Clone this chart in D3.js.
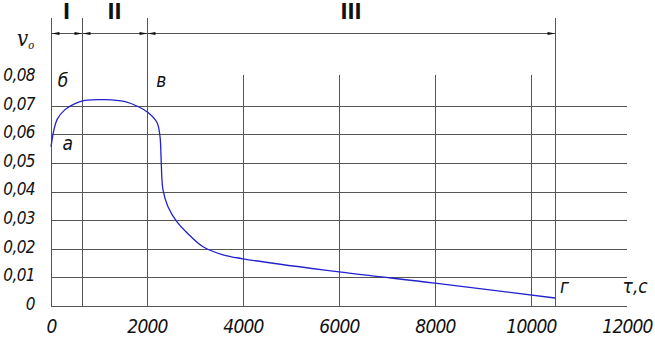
<!DOCTYPE html>
<html>
<head>
<meta charset="utf-8">
<script src="https://cdn.jsdelivr.net/npm/d3@7"></script>
<style>
  body { margin: 0; background: #fff; }
  svg text { font-family: "DejaVu Sans Condensed", "DejaVu Sans", sans-serif; font-stretch: condensed; font-style: italic; fill: #111; }
</style>
</head>
<body>
<div id="chart"></div>
<script>
// curve: time (s) and velocity
const times = [0, 125, 292, 500, 708, 1125, 1542, 1812, 2021, 2208, 2271, 2292, 2312, 2333, 2437, 2625, 2833, 3167, 3583, 4000, 6000, 8000, 10500];
const speeds = [0.0557, 0.0651, 0.0686, 0.0707, 0.0718, 0.0721, 0.0714, 0.0697, 0.0676, 0.0641, 0.0592, 0.0522, 0.0441, 0.0406, 0.0347, 0.0294, 0.0256, 0.0207, 0.0179, 0.0165, 0.0119, 0.0080, 0.0028];

const xTicks = [0, 2000, 4000, 6000, 8000, 10000, 12000];
const yTicks = [0, 0.01, 0.02, 0.03, 0.04, 0.05, 0.06, 0.07, 0.08];
const yGrid = [0, 0.01, 0.02, 0.03, 0.04, 0.05, 0.06, 0.07];
const xGrid = [4000, 6000, 8000, 10000];
const stageBounds = [0, 650, 2000, 10500];
const stageNames = ["I", "II", "III"];

function init() {
    const width = 655, height = 341;

    const svg = d3.select("#chart")
                  .append("svg")
                  .attr("width", width)
                  .attr("height", height);

    const x = d3.scaleLinear().domain([0, 12000]).range([51, 627]);
    const y = d3.scaleLinear().domain([0, 0.08]).range([306, 77]);

    const gridColor = "#555";

    // horizontal grid
    svg.selectAll(".hgrid")
       .data(yGrid)
       .join("line")
       .attr("x1", x(0)).attr("x2", x(12000))
       .attr("y1", d => Math.round(y(d)) + 0.5).attr("y2", d => Math.round(y(d)) + 0.5)
       .attr("stroke", gridColor).attr("stroke-width", 1);

    // vertical grid
    svg.selectAll(".vgrid")
       .data(xGrid)
       .join("line")
       .attr("x1", d => Math.round(x(d)) + 0.5).attr("x2", d => Math.round(x(d)) + 0.5)
       .attr("y1", y(0.08) - 2).attr("y2", y(0))
       .attr("stroke", gridColor).attr("stroke-width", 1);

    // stage boundaries (extension lines)
    const dimY = 33.5;
    svg.selectAll(".ext")
       .data(stageBounds)
       .join("line")
       .attr("x1", d => Math.round(x(d)) + 0.5).attr("x2", d => Math.round(x(d)) + 0.5)
       .attr("y1", 18).attr("y2", y(0))
       .attr("stroke", gridColor).attr("stroke-width", 1);

    // dimension line with arrows
    svg.append("line")
       .attr("x1", x(0)).attr("x2", x(10500))
       .attr("y1", dimY).attr("y2", dimY)
       .attr("stroke", gridColor).attr("stroke-width", 1);

    const arrows = [];
    for (let i = 0; i < stageNames.length; i++) {
        arrows.push({ at: Math.round(x(stageBounds[i])) + 0.5, dir: 1 });
        arrows.push({ at: Math.round(x(stageBounds[i + 1])) + 0.5, dir: -1 });
    }
    svg.selectAll(".arrow")
       .data(arrows)
       .join("path")
       .attr("d", d => `M${d.at},${dimY} l${d.dir * 8},-1.6 l0,3.2 Z`)
       .attr("fill", "#111");

    svg.selectAll(".stage")
       .data(stageNames)
       .join("text")
       .attr("x", (d, i) => (x(stageBounds[i]) + x(stageBounds[i + 1])) / 2)
       .attr("y", 19)
       .attr("text-anchor", "middle")
       .style("font-family", "'DejaVu Sans', sans-serif")
       .style("font-style", "normal")
       .style("font-weight", "bold")
       .style("font-size", "21px")
       .style("font-stretch", "condensed")
       .text(d => d);

    // axis labels
    const fmt = d => d === 0 ? "0" : d3.format(".2f")(d).replace(".", ",");
    const yAxis = svg.append("g")
       .attr("transform", `translate(${x(0)},0)`)
       .call(d3.axisLeft(y).tickValues(yTicks).tickFormat(fmt).tickSize(0).tickPadding(16));
    yAxis.select(".domain").remove();
    yAxis.selectAll("text")
       .attr("dy", "0.2em")
       .style("font-size", "17px")
       .style("letter-spacing", "-0.6px")
       .style("font-family", null);

    const xAxis = svg.append("g")
       .attr("transform", `translate(0,${y(0)})`)
       .call(d3.axisBottom(x).tickValues(xTicks).tickFormat(d => String(d)).tickSize(0).tickPadding(14));
    xAxis.select(".domain").remove();
    xAxis.selectAll("text")
       .style("font-size", "19px")
       .style("letter-spacing", "-0.8px")
       .style("font-family", null);

    // velocity curve
    const pts = times.map((t, i) => [t, speeds[i]]);
    svg.append("path")
       .datum(pts)
       .attr("fill", "none")
       .attr("stroke", "#2222cc")
       .attr("stroke-width", 1.3)
       .attr("d", d3.line()
               .x(d => x(d[0]))
               .y(d => y(d[1]))
               .curve(d3.curveCatmullRom.alpha(0.5)));

    // point letters and axis names
    const notes = [
        { t: 350, v: 0.0545, s: "а" },
        { t: 250, v: 0.0765, s: "б" },
        { t: 2300, v: 0.0765, s: "в" },
        { t: 10700, v: 0.0045, s: "г" },
        { t: 12170, v: 0.0045, s: "τ,с" }
    ];
    svg.selectAll(".note")
       .data(notes)
       .join("text")
       .attr("x", d => x(d.t))
       .attr("y", d => y(d.v))
       .attr("text-anchor", "middle")
       .style("font-size", "19px")
       .text(d => d.s);

    const vlab = svg.append("text")
       .attr("x", 17).attr("y", 46)
       .style("font-family", "'DejaVu Serif', serif")
       .style("font-size", "22px");
    vlab.append("tspan").text("v");
    vlab.append("tspan").attr("dy", 3).style("font-size", "11px").text("о");
}

window.onload = init;
</script>
</body>
</html>
